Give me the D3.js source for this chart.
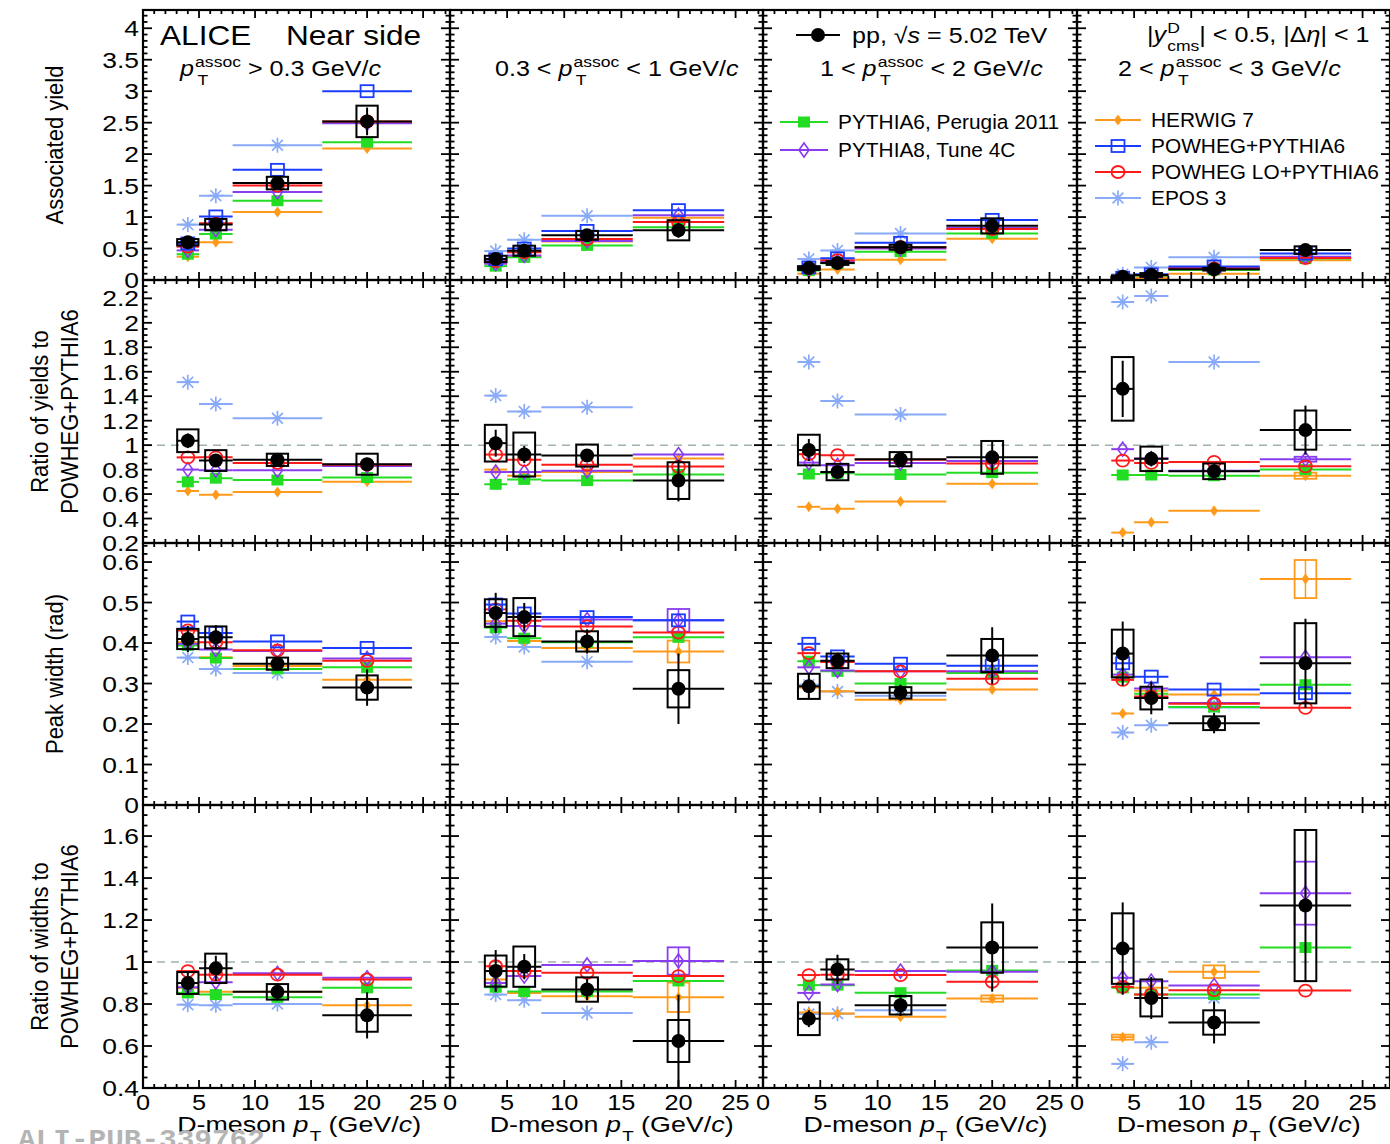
<!DOCTYPE html>
<html>
<head>
<meta charset="utf-8">
<script src="https://cdn.jsdelivr.net/npm/d3@7"></script>
<style>
  body { margin: 0; background: #fff; }
  svg text { font-family: "Liberation Sans", Arial, sans-serif; white-space: pre; }
</style>
</head>
<body>
<svg id="canvas" width="1390" height="1144"></svg>
<script>
// D-meson pT bins
let binLo = [3, 5, 8, 16];
let binHi = [5, 8, 16, 24];
let binMid = [4, 6.5, 12, 20];

// ---- associated yield (one row per assoc pT range: 4 D-meson bins) ----
let yieldData   = [[0.60, 0.88, 1.54, 2.52], [0.335, 0.465, 0.71, 0.79], [0.19, 0.27, 0.52, 0.86], [0.053, 0.08, 0.17, 0.475]];
let yieldStat   = [[0.04, 0.06, 0.06, 0.22], [0.03, 0.04, 0.04, 0.12], [0.02, 0.025, 0.03, 0.1], [0.015, 0.02, 0.02, 0.05]];
let yieldSyst   = [[0.05, 0.09, 0.1, 0.25], [0.05, 0.08, 0.07, 0.16], [0.03, 0.03, 0.04, 0.12], [0.02, 0.03, 0.02, 0.06]];
let yieldPythia6  = [[0.41, 0.73, 1.26, 2.19], [0.22, 0.36, 0.55, 0.84], [0.15, 0.265, 0.45, 0.74], [0.027, 0.068, 0.16, 0.34]];
let yieldPythia8  = [[0.47, 0.80, 1.40, 2.49], [0.26, 0.39, 0.62, 1.03], [0.17, 0.29, 0.50, 0.83], [0.035, 0.08, 0.19, 0.37]];
let yieldHerwig   = [[0.37, 0.60, 1.08, 2.09], [0.26, 0.375, 0.61, 0.99], [0.10, 0.165, 0.32, 0.655], [0.01, 0.033, 0.10, 0.315]];
let yieldPowheg   = [[0.58, 1.01, 1.75, 3.00], [0.33, 0.50, 0.78, 1.11], [0.20, 0.345, 0.59, 0.955], [0.036, 0.09, 0.215, 0.42]];
let yieldPowhegLO = [[0.53, 0.90, 1.50, 2.52], [0.30, 0.44, 0.65, 0.92], [0.185, 0.315, 0.52, 0.81], [0.032, 0.077, 0.186, 0.35]];
let yieldEpos     = [[0.88, 1.34, 2.14, null], [0.46, 0.64, 1.02, null], [0.335, 0.47, 0.74, null], [0.09, 0.2, 0.36, null]];

// ---- ratio of yields to POWHEG+PYTHIA6 ----
let ryData   = [[1.036, 0.874, 0.88, 0.844], [1.016, 0.923, 0.915, 0.71], [0.96, 0.78, 0.885, 0.90], [1.46, 0.888, 0.786, 1.123]];
let ryStat   = [[0.06, 0.04, 0.03, 0.05], [0.11, 0.07, 0.05, 0.17], [0.09, 0.04, 0.04, 0.14], [0.23, 0.06, 0.04, 0.2]];
let rySyst   = [[0.093, 0.085, 0.05, 0.086], [0.15, 0.18, 0.09, 0.15], [0.125, 0.067, 0.058, 0.134], [0.26, 0.1, 0.064, 0.16]];
let ryPythia6  = [[0.70, 0.73, 0.715, 0.735], [0.68, 0.72, 0.71, 0.76], [0.764, 0.77, 0.76, 0.775], [0.756, 0.756, 0.75, 0.80]];
let ryPythia8  = [[0.80, 0.795, 0.795, 0.83], [0.78, 0.78, 0.79, 0.923], [0.857, 0.835, 0.855, 0.87], [0.967, 0.89, 0.79, 0.885]];
let ryHerwig   = [[0.625, 0.595, 0.617, 0.70], [0.80, 0.75, 0.78, 0.89], [0.496, 0.48, 0.54, 0.685], [0.285, 0.37, 0.463, 0.75]];
let ryPowhegLO = [[0.90, 0.90, 0.855, 0.84], [0.923, 0.88, 0.84, 0.825], [0.926, 0.918, 0.88, 0.85], [0.874, 0.855, 0.863, 0.827]];
let ryEpos     = [[1.515, 1.337, 1.22, null], [1.405, 1.274, 1.31, null], [1.68, 1.36, 1.25, null], [2.17, 2.22, 1.68, null]];

// ---- near-side peak width (rad) ----
let widthData   = [[0.41, 0.414, 0.349, 0.29], [0.474, 0.464, 0.404, 0.287], [0.293, 0.356, 0.277, 0.369], [0.374, 0.264, 0.202, 0.35]];
let widthStat   = [[0.032, 0.03, 0.015, 0.045], [0.05, 0.035, 0.03, 0.087], [0.03, 0.02, 0.02, 0.07], [0.079, 0.04, 0.025, 0.11]];
let widthSyst   = [[0.025, 0.027, 0.015, 0.03], [0.034, 0.047, 0.025, 0.046], [0.031, 0.018, 0.014, 0.041], [0.059, 0.028, 0.017, 0.099]];
let widthPythia6  = [[0.394, 0.363, 0.336, 0.34], [0.438, 0.412, 0.402, 0.414], [0.355, 0.33, 0.30, 0.326], [0.316, 0.275, 0.242, 0.297]];
let widthPythia8  = [[0.398, 0.384, 0.38, 0.362], [0.448, 0.442, 0.458, 0.456], [0.34, 0.332, 0.33, 0.33], [0.322, 0.288, 0.252, 0.365]];
let widthHerwig   = [[0.402, 0.365, 0.343, 0.309], [0.454, 0.405, 0.388, 0.379], [0.29, 0.281, 0.26, 0.285], [0.226, 0.282, 0.273, 0.558]];
let widthPowheg   = [[0.453, 0.425, 0.404, 0.388], [0.495, 0.473, 0.464, 0.456], [0.398, 0.367, 0.349, 0.344], [0.35, 0.317, 0.285, 0.276]];
let widthPowhegLO = [[0.431, 0.402, 0.382, 0.356], [0.483, 0.455, 0.441, 0.426], [0.375, 0.353, 0.33, 0.312], [0.309, 0.268, 0.25, 0.24]];
let widthEpos     = [[0.364, 0.336, 0.326, null], [0.415, 0.39, 0.354, null], [0.297, 0.28, 0.27, null], [0.179, 0.197, 0.241, null]];

// ---- ratio of widths to POWHEG+PYTHIA6 ----
let rwData   = [[0.90, 0.97, 0.858, 0.746], [0.957, 0.978, 0.869, 0.624], [0.73, 0.965, 0.794, 1.069], [1.064, 0.829, 0.712, 1.269]];
let rwStat   = [[0.05, 0.06, 0.04, 0.11], [0.1, 0.06, 0.05, 0.22], [0.04, 0.07, 0.05, 0.21], [0.22, 0.1, 0.1, 0.36]];
let rwSyst   = [[0.052, 0.07, 0.037, 0.078], [0.074, 0.096, 0.058, 0.1], [0.078, 0.048, 0.044, 0.12], [0.168, 0.088, 0.058, 0.36]];
let rwPythia6  = [[0.853, 0.845, 0.832, 0.877], [0.88, 0.86, 0.86, 0.91], [0.89, 0.89, 0.854, 0.96], [0.877, 0.845, 0.845, 1.069]];
let rwPythia8  = [[0.88, 0.904, 0.946, 0.925], [0.90, 0.933, 0.986, 1.005], [0.853, 0.893, 0.957, 0.954], [0.925, 0.909, 0.888, 1.328]];
let rwHerwig   = [[0.877, 0.858, 0.858, 0.794], [0.917, 0.853, 0.837, 0.832], [0.76, 0.755, 0.739, 0.826], [0.642, 0.877, 0.954, 2.02]];
let rwPowhegLO = [[0.957, 0.94, 0.94, 0.917], [0.98, 0.957, 0.949, 0.933], [0.938, 0.94, 0.938, 0.906], [0.882, 0.845, 0.866, 0.864]];
let rwEpos     = [[0.797, 0.794, 0.80, null], [0.845, 0.818, 0.757, null], [0.752, 0.754, 0.77, null], [0.515, 0.618, 0.829, null]];

// model points that carry an uncertainty box: [row, column, model, bin, half height]
let modelBoxes = [
  [1, 3, "herwig", 3, 0.025], [1, 3, "pythia8", 3, 0.02],
  [2, 1, "herwig", 3, 0.027], [2, 1, "pythia8", 3, 0.028], [2, 3, "herwig", 3, 0.047],
  [3, 1, "herwig", 3, 0.07], [3, 1, "pythia8", 3, 0.065], [3, 2, "herwig", 3, 0.015],
  [3, 3, "herwig", 0, 0.012], [3, 3, "herwig", 2, 0.03], [3, 3, "pythia8", 3, 0.15]
];

let yTitles = [["Associated yield"], ["Ratio of yields to", "POWHEG+PYTHIA6"],
               ["Peak width (rad)"], ["Ratio of widths to", "POWHEG+PYTHIA6"]];

let modelNames = {
  pythia6: "PYTHIA6, Perugia 2011", pythia8: "PYTHIA8, Tune 4C", herwig: "HERWIG 7",
  powheg: "POWHEG+PYTHIA6", powhegLO: "POWHEG LO+PYTHIA6", epos: "EPOS 3"
};
let colors = {
  data: "#000000", pythia6: "#22dd22", pythia8: "#8a3cf0", herwig: "#ff9a1a",
  powheg: "#1a3cff", powhegLO: "#ff1a1a", epos: "#88aaf8"
};

let rows = [
  { data: yieldData, stat: yieldStat, syst: yieldSyst, domain: [0, 4.29], major: 0.5, minor: 0.1,
    models: { epos: yieldEpos, herwig: yieldHerwig, pythia6: yieldPythia6, pythia8: yieldPythia8, powhegLO: yieldPowhegLO, powheg: yieldPowheg } },
  { data: ryData, stat: ryStat, syst: rySyst, domain: [0.2, 2.35], major: 0.2, minor: 0.05, unity: true,
    models: { epos: ryEpos, herwig: ryHerwig, pythia6: ryPythia6, pythia8: ryPythia8, powhegLO: ryPowhegLO } },
  { data: widthData, stat: widthStat, syst: widthSyst, domain: [0, 0.647], major: 0.1, minor: 0.02,
    models: { epos: widthEpos, herwig: widthHerwig, pythia6: widthPythia6, pythia8: widthPythia8, powhegLO: widthPowhegLO, powheg: widthPowheg } },
  { data: rwData, stat: rwStat, syst: rwSyst, domain: [0.4, 1.748], major: 0.2, minor: 0.05, unity: true,
    models: { epos: rwEpos, herwig: rwHerwig, pythia6: rwPythia6, pythia8: rwPythia8, powhegLO: rwPowhegLO } }
];

let colEdges = [143, 450, 763, 1077, 1390];
let rowEdges = [10, 280, 543, 805, 1088];
let xMax = 27.4;
let boxHalf = 0.95;

let canvas = d3.select("#canvas");
canvas.append("rect").attr("width", 1390).attr("height", 1144).attr("fill", "#fff");

let drawMarker = (g, key, x, y) => {
  let c = colors[key];
  if (key === "data") {
    g.append("circle").attr("cx", x).attr("cy", y).attr("r", 7).attr("fill", c);
  } else if (key === "pythia6") {
    g.append("rect").attr("x", x - 6).attr("y", y - 5.5).attr("width", 12).attr("height", 11).attr("fill", c);
  } else if (key === "pythia8") {
    g.append("path").attr("d", `M${x},${y - 7}L${x + 5},${y}L${x},${y + 7}L${x - 5},${y}Z`)
      .attr("fill", "none").attr("stroke", c).attr("stroke-width", 1.6);
  } else if (key === "herwig") {
    g.append("path").attr("d", `M${x},${y - 5.5}L${x + 4},${y}L${x},${y + 5.5}L${x - 4},${y}Z`).attr("fill", c);
  } else if (key === "powheg") {
    g.append("rect").attr("x", x - 6.5).attr("y", y - 6).attr("width", 13).attr("height", 12)
      .attr("fill", "none").attr("stroke", c).attr("stroke-width", 1.8);
  } else if (key === "powhegLO") {
    g.append("ellipse").attr("cx", x).attr("cy", y).attr("rx", 6.5).attr("ry", 6)
      .attr("fill", "none").attr("stroke", c).attr("stroke-width", 1.8);
  } else if (key === "epos") {
    let s = 7.5, d = s * 0.72;
    g.append("path").attr("d", `M${x - s},${y}H${x + s}M${x},${y - s}V${y + s}M${x - d},${y - d}L${x + d},${y + d}M${x - d},${y + d}L${x + d},${y - d}`)
      .attr("stroke", c).attr("stroke-width", 1.7);
  }
};

// text with italic pieces and stacked super/subscripts, stretched horizontally by sx
let richText = (g, x, y, parts, fs, anchor, sx) => {
  sx = sx || 1;
  let grp = g.append("g");
  let cx = 0;
  parts.forEach(p => {
    if (p.sup !== undefined || p.sub !== undefined) {
      let w = 0;
      if (p.sup) {
        let t = grp.append("text").attr("x", cx + 1).attr("y", -fs * 0.42).attr("font-size", fs * 0.7).text(p.sup);
        w = Math.max(w, t.node().getComputedTextLength() + 1);
      }
      if (p.sub) {
        let t = grp.append("text").attr("x", cx + (p.dx || 1)).attr("y", fs * 0.42).attr("font-size", fs * 0.7).text(p.sub);
        w = Math.max(w, t.node().getComputedTextLength() + (p.dx || 1));
      }
      cx += w;
    } else {
      let t = grp.append("text").attr("x", cx).attr("y", 0).attr("font-size", fs)
        .attr("font-style", p.i ? "italic" : null).text(p.t);
      cx += t.node().getComputedTextLength();
    }
  });
  let wid = cx * sx;
  let ox = anchor === "end" ? x - wid : anchor === "middle" ? x - wid / 2 : x;
  grp.attr("transform", `translate(${ox},${y}) scale(${sx},1)`);
  return wid;
};

let label = (g, x, y, txt, fs, anchor, sx) => {
  return g.append("text").attr("transform", `translate(${x},${y}) scale(${sx || 1},1)`)
    .attr("text-anchor", anchor || "start").attr("font-size", fs).text(txt);
};

let ticks = (lo, hi, step) => {
  let out = [];
  let start = Math.ceil(lo / step - 1e-6);
  for (let k = start; k * step <= hi + 1e-6; k++) out.push(+(k * step).toFixed(4));
  return out;
};

rows.forEach((row, r) => {
  let y0 = rowEdges[r], y1 = rowEdges[r + 1];
  let yScale = d3.scaleLinear().domain(row.domain).range([y1, y0]);

  for (let c = 0; c < 4; c++) {
    let x0 = colEdges[c], x1 = colEdges[c + 1];
    let xScale = d3.scaleLinear().domain([0, xMax]).range([x0, x1]);
    let panel = canvas.append("g");
    let clipId = `clip-${r}-${c}`;
    panel.append("clipPath").attr("id", clipId)
      .append("rect").attr("x", x0).attr("y", y0).attr("width", x1 - x0).attr("height", y1 - y0);
    let plot = panel.append("g").attr("clip-path", `url(#${clipId})`);

    if (row.unity) {
      plot.append("line").attr("x1", x0).attr("x2", x1).attr("y1", yScale(1)).attr("y2", yScale(1))
        .attr("stroke", "#9fb3aa").attr("stroke-width", 1.5).attr("stroke-dasharray", "8,6");
    }

    // model predictions
    Object.keys(row.models).forEach(key => {
      let vals = row.models[key][c];
      vals.forEach((v, b) => {
        if (v === null) return;
        let g = plot.append("g");
        let box = modelBoxes.find(m => m[0] === r && m[1] === c && m[2] === key && m[3] === b);
        if (box) {
          g.append("rect").attr("x", xScale(binMid[b] - boxHalf)).attr("y", yScale(v + box[4]))
            .attr("width", xScale(binMid[b] + boxHalf) - xScale(binMid[b] - boxHalf))
            .attr("height", yScale(v - box[4]) - yScale(v + box[4]))
            .attr("fill", "none").attr("stroke", colors[key]).attr("stroke-width", 1.8);
          g.append("line").attr("x1", xScale(binMid[b])).attr("x2", xScale(binMid[b]))
            .attr("y1", yScale(v + box[4])).attr("y2", yScale(v - box[4]))
            .attr("stroke", colors[key]).attr("stroke-width", 1.5);
        }
        g.append("line").attr("x1", xScale(binLo[b])).attr("x2", xScale(binHi[b]))
          .attr("y1", yScale(v)).attr("y2", yScale(v))
          .attr("stroke", colors[key]).attr("stroke-width", 2);
        drawMarker(g, key, xScale(binMid[b]), yScale(v));
      });
    });

    // data
    row.data[c].forEach((v, b) => {
      let g = plot.append("g");
      let s = row.syst[c][b], e = row.stat[c][b];
      g.append("rect").attr("x", xScale(binMid[b] - boxHalf)).attr("y", yScale(v + s))
        .attr("width", xScale(binMid[b] + boxHalf) - xScale(binMid[b] - boxHalf))
        .attr("height", yScale(v - s) - yScale(v + s))
        .attr("fill", "none").attr("stroke", "#000").attr("stroke-width", 2);
      g.append("line").attr("x1", xScale(binLo[b])).attr("x2", xScale(binHi[b]))
        .attr("y1", yScale(v)).attr("y2", yScale(v)).attr("stroke", "#000").attr("stroke-width", 2);
      g.append("line").attr("x1", xScale(binMid[b])).attr("x2", xScale(binMid[b]))
        .attr("y1", yScale(v + e)).attr("y2", yScale(v - e)).attr("stroke", "#000").attr("stroke-width", 2);
      drawMarker(g, "data", xScale(binMid[b]), yScale(v));
    });

    // frame and inward ticks on all four sides
    let axisG = panel.append("g").attr("stroke", "#000");
    axisG.append("rect").attr("x", x0).attr("y", y0).attr("width", x1 - x0).attr("height", y1 - y0)
      .attr("fill", "none").attr("stroke-width", 2.2);
    ticks(0, xMax, 1).forEach(t => {
      let len = t % 5 === 0 ? 8 : 4;
      let px = xScale(t);
      axisG.append("line").attr("x1", px).attr("x2", px).attr("y1", y1).attr("y2", y1 - len).attr("stroke-width", 1.8);
      axisG.append("line").attr("x1", px).attr("x2", px).attr("y1", y0).attr("y2", y0 + len).attr("stroke-width", 1.8);
    });
    let majors = ticks(row.domain[0], row.domain[1], row.major);
    ticks(row.domain[0], row.domain[1], row.minor).forEach(t => {
      let isMajor = majors.some(m => Math.abs(m - t) < 1e-6);
      let len = isMajor ? 9 : 4.5;
      let py = yScale(t);
      axisG.append("line").attr("x1", x0).attr("x2", x0 + len).attr("y1", py).attr("y2", py).attr("stroke-width", 1.8);
      axisG.append("line").attr("x1", x1).attr("x2", x1 - len).attr("y1", py).attr("y2", py).attr("stroke-width", 1.8);
    });

    if (c === 0) {
      majors.forEach(t => {
        label(canvas, x0 - 4, yScale(t) + 8, d3.format("~g")(t), 22, "end", 1.2);
      });
    }
    if (r === 3) {
      ticks(0, 25, 5).forEach(t => {
        label(canvas, xScale(t), y1 + 22, String(t), 22, "middle", 1.15);
      });
      richText(canvas, xScale(25) - 2, 1132, [
        { t: "D-meson " }, { t: "p", i: true }, { sub: "T", dx: 1 }, { t: " (GeV/" }, { t: "c", i: true }, { t: ")" }
      ], 22, "end", 1.22);
    }
  }

  // y-axis titles
  let yMid = (y0 + y1) / 2;
  let lines = yTitles[r];
  lines.forEach((txt, k) => {
    let lx = lines.length === 1 ? 63 : 48 + k * 30;
    canvas.append("text").attr("transform", `translate(${lx},${yMid}) scale(1.1,1) rotate(-90)`)
      .attr("text-anchor", "middle").attr("font-size", 22).text(txt);
  });
});

// panel headers
label(canvas, 160, 45, "ALICE", 27, "start", 1.17);
label(canvas, 286, 45, "Near side", 27, "start", 1.17);

let ptAssoc = [{ t: "p", i: true }, { sup: "assoc", sub: "T", dx: 3 }];
let hx = 1.14;
richText(canvas, 180, 76, [...ptAssoc, { t: " > 0.3 GeV/" }, { t: "c", i: true }], 22, "start", hx);
richText(canvas, 495, 76, [{ t: "0.3 < " }, ...ptAssoc, { t: " < 1 GeV/" }, { t: "c", i: true }], 22, "start", hx);
richText(canvas, 820, 76, [{ t: "1 < " }, ...ptAssoc, { t: " < 2 GeV/" }, { t: "c", i: true }], 22, "start", hx);
richText(canvas, 1118, 76, [{ t: "2 < " }, ...ptAssoc, { t: " < 3 GeV/" }, { t: "c", i: true }], 22, "start", hx);
richText(canvas, 1147, 42, [{ t: "|" }, { t: "y", i: true }, { sup: "D", sub: "cms", dx: 1 }, { t: "| < 0.5, |Δ" }, { t: "η", i: true }, { t: "| < 1" }], 22, "start", hx);

// data legend entry
canvas.append("line").attr("x1", 796).attr("x2", 840).attr("y1", 35).attr("y2", 35).attr("stroke", "#000").attr("stroke-width", 2);
drawMarker(canvas, "data", 818, 35);
richText(canvas, 852, 43, [{ t: "pp, √" }, { t: "s", i: true }, { t: " = 5.02 TeV" }], 22, "start", hx);

// model legends
let legendEntries = [
  ["pythia6", 780, 828, 122], ["pythia8", 780, 828, 150],
  ["herwig", 1095, 1141, 120], ["powheg", 1095, 1141, 146], ["powhegLO", 1095, 1141, 172], ["epos", 1095, 1141, 198]
];
legendEntries.forEach(([key, lx0, lx1, ly]) => {
  canvas.append("line").attr("x1", lx0).attr("x2", lx1).attr("y1", ly).attr("y2", ly)
    .attr("stroke", colors[key]).attr("stroke-width", 2);
  drawMarker(canvas, key, (lx0 + lx1) / 2, ly);
  label(canvas, lx1 + 10, ly + 7, modelNames[key], 19.5, "start", 1.07);
});

// publication tag
canvas.append("text").attr("transform", "translate(18,1148) scale(1.05,1)").attr("font-size", 28).attr("font-weight", "bold")
  .attr("fill", "#b4b4b4").style("font-family", "'Liberation Mono', 'DejaVu Sans Mono', monospace")
  .text("ALI-PUB-339762");
</script>
</body>
</html>
